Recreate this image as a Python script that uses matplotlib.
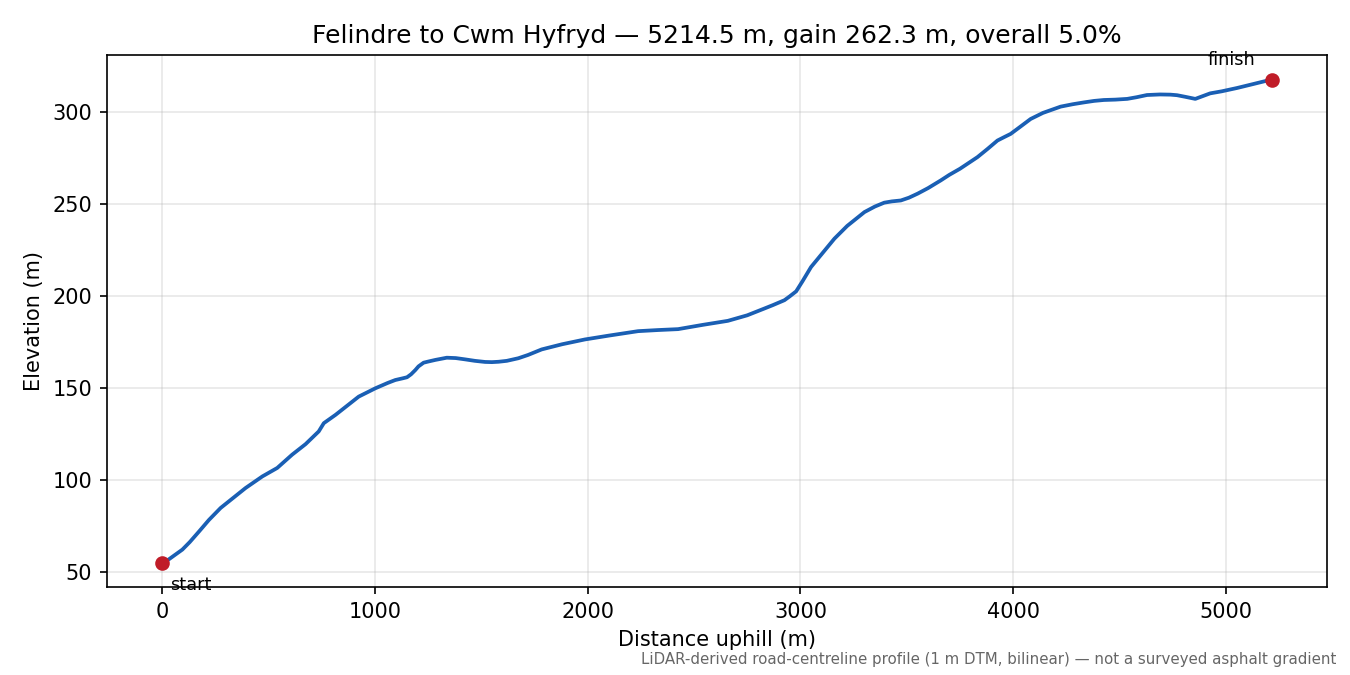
import matplotlib

matplotlib.use("Agg")
import matplotlib.pyplot as plt
import numpy as np

# profile (distance uphill m, elevation m)
DIST = [0, 30, 60, 95, 130, 174, 220, 275, 314, 392, 471, 541, 611, 674,
        736, 760, 815, 924, 1002, 1060, 1096, 1130, 1151, 1170, 1190, 1205,
        1229, 1250, 1284, 1338, 1380, 1424, 1470, 1518, 1550, 1581, 1620,
        1674, 1720, 1784, 1880, 1987, 2100, 2237, 2330, 2425, 2540, 2659,
        2750, 2831, 2870, 2925, 2950, 2980, 3010, 3050, 3100, 3160, 3220,
        3301, 3350, 3394, 3430, 3472, 3510, 3551, 3600, 3660, 3700, 3750,
        3832, 3880, 3926, 3960, 3988, 4030, 4082, 4140, 4223, 4280, 4333,
        4380, 4426, 4480, 4536, 4580, 4629, 4690, 4739, 4770, 4810, 4856,
        4926, 4980, 5052, 5130, 5214.5]
ELEV = [55.1, 57.0, 59.5, 62.4, 66.5, 72.3, 78.5, 85.0, 88.6, 95.8, 102.1,
        106.7, 113.9, 119.6, 126.5, 131.0, 135.5, 145.4, 149.9, 152.8, 154.4,
        155.3, 155.9, 157.5, 159.8, 161.8, 163.8, 164.4, 165.3, 166.5, 166.3,
        165.6, 164.8, 164.2, 164.1, 164.3, 164.8, 166.2, 168.0, 171.0, 173.8,
        176.4, 178.5, 180.9, 181.5, 182.0, 184.3, 186.5, 189.5, 193.2, 195.0,
        197.7, 199.8, 202.5, 208.0, 215.7, 222.7, 231.1, 238.0, 245.5, 248.5,
        250.6, 251.3, 251.8, 253.3, 255.5, 258.5, 262.7, 265.7, 269.0, 275.3,
        279.8, 284.3, 286.3, 287.9, 291.5, 296.0, 299.3, 302.7, 304.0, 305.0,
        305.8, 306.3, 306.5, 306.9, 307.8, 309.0, 309.3, 309.2, 308.9, 308.0,
        306.9, 309.9, 311.0, 312.8, 315.0, 317.4]

TITLE = "Felindre to Cwm Hyfryd — 5214.5 m, gain 262.3 m, overall 5.0%"
NOTE = "LiDAR-derived road-centreline profile (1 m DTM, bilinear) — not a surveyed asphalt gradient"


def main() -> None:
    fig, ax = plt.subplots(figsize=(9, 4.5), dpi=150)

    ax.plot(DIST, ELEV, color="#1a5fb4", linewidth=1.8)
    ax.plot([DIST[0], DIST[-1]], [ELEV[0], ELEV[-1]], "o", color="#c01c28",
            markersize=6, zorder=3)

    ax.annotate("start", (DIST[0], ELEV[0]), xytext=(4, -6),
                textcoords="offset points", ha="left", va="top", fontsize=8.5)
    ax.annotate("finish", (DIST[-1], ELEV[-1]), xytext=(-8, 5),
                textcoords="offset points", ha="right", va="bottom", fontsize=8.5)

    ax.set_title(TITLE, fontsize=12)
    ax.set_xlabel("Distance uphill (m)")
    ax.set_ylabel("Elevation (m)")
    ax.grid(True, alpha=0.3)

    fig.text(0.99, 0.012, NOTE, ha="right", va="bottom", fontsize=7.2,
             color="#666666")
    fig.subplots_adjust(left=0.079, right=0.983, bottom=0.130, top=0.918)
    fig.savefig("out.png", dpi=150)


if __name__ == "__main__":
    main()
